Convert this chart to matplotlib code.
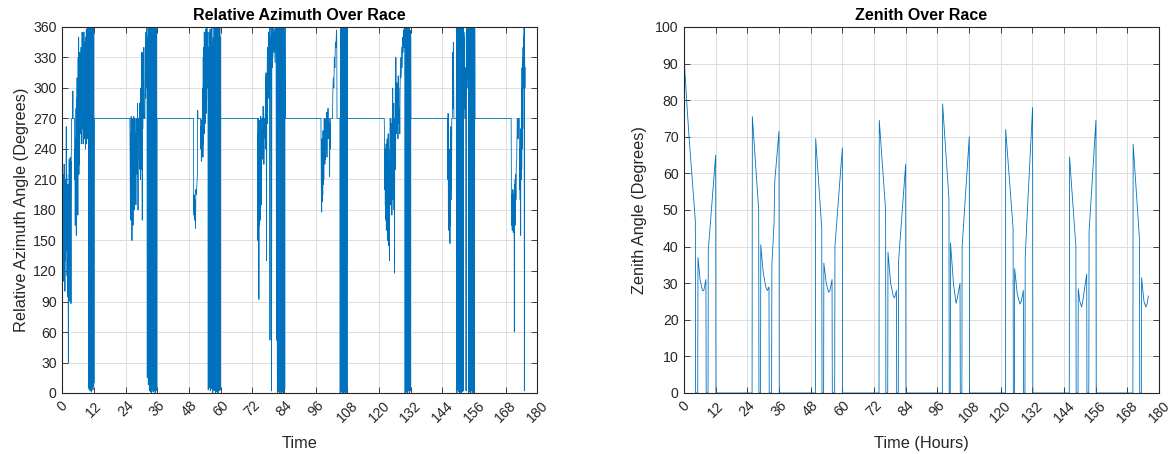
import matplotlib
matplotlib.use("Agg")
import matplotlib.pyplot as plt

plt.rcParams['font.family'] = ['Liberation Sans', 'DejaVu Sans']

# ---------------- Relative azimuth data (time in hours, angle in degrees) ----------------
az_day1 = [(0.0, 270), (0.0, 92), (0.1, 225), (0.2, 140), (0.3, 215), (0.4, 110), (0.5, 200), (0.6, 150),
           (0.7, 225), (0.8, 120), (0.9, 205), (1.0, 100), (1.1, 210), (1.2, 130), (1.3, 190), (1.4, 150),
           (1.5, 262), (1.6, 140), (1.7, 215), (1.8, 115), (1.9, 205), (2.0, 95), (2.1, 180), (2.2, 130),
           (2.3, 30), (2.4, 205), (2.5, 160), (2.6, 230), (2.7, 125), (2.8, 220), (2.9, 90), (3.0, 232),
           (3.1, 150), (3.2, 228), (3.3, 88), (3.4, 230), (3.5, 270), (3.9, 270), (4.0, 297), (4.1, 270),
           (4.6, 270), (4.7, 210), (4.8, 240), (4.9, 165), (5.0, 250), (5.1, 205), (5.2, 280), (5.3, 155),
           (5.4, 290), (5.5, 230), (5.6, 310), (5.7, 200), (5.8, 265), (5.9, 175), (6.0, 330), (6.1, 240),
           (6.2, 350), (6.3, 215), (6.4, 300), (6.5, 225), (6.6, 335), (6.7, 270), (6.9, 270), (7.0, 255),
           (7.1, 340), (7.2, 245), (7.3, 336), (7.4, 260), (7.5, 355), (7.6, 270), (7.8, 270), (7.9, 245),
           (8.0, 335), (8.1, 265), (8.2, 355), (8.3, 250), (8.4, 345), (8.5, 270), (8.7, 270), (8.8, 240),
           (8.9, 350), (9.0, 260), (9.1, 358), (9.2, 245), (9.3, 352), (9.4, 262), (9.5, 356), (9.6, 250),
           (9.7, 360), (9.8, 270), (9.9, 355),
           (10.0, 5), (10.1, 360), (10.2, 3), (10.3, 356), (10.4, 8), (10.5, 360), (10.6, 2), (10.7, 355),
           (10.8, 6), (10.9, 360), (11.0, 1), (11.1, 358), (11.2, 4), (11.3, 360), (11.4, 9), (11.5, 357),
           (11.6, 3), (11.7, 360), (11.8, 7), (11.9, 356), (12.0, 10), (12.1, 270)]

az_day2 = [(25.6, 270), (25.7, 235), (25.8, 180), (25.9, 255), (26.0, 170), (26.1, 272), (26.2, 175),
           (26.3, 265), (26.4, 150), (26.5, 240), (26.6, 185), (26.7, 270), (26.8, 165), (26.9, 250),
           (27.0, 190), (27.1, 272), (27.2, 180), (27.3, 270), (27.6, 270), (27.7, 200), (27.8, 255),
           (27.9, 185), (28.0, 270), (28.3, 270), (28.4, 215), (28.5, 285), (28.6, 230), (28.7, 180),
           (28.8, 270), (29.1, 270), (29.2, 230), (29.3, 285), (29.4, 220), (29.5, 265), (29.6, 210),
           (29.7, 300), (29.8, 225), (29.9, 270), (30.0, 220), (30.1, 335), (30.2, 240), (30.3, 170),
           (30.4, 295), (30.5, 260), (30.6, 335), (30.7, 270), (30.8, 300), (30.9, 340), (31.0, 270),
           (31.3, 270), (31.4, 310), (31.5, 345), (31.6, 290), (31.7, 355), (31.8, 300), (31.9, 360),
           (32.0, 310), (32.1, 320), (32.2, 15), (32.3, 350), (32.4, 300), (32.5, 360), (32.6, 8),
           (32.7, 340), (32.8, 310), (32.9, 360), (33.0, 2), (33.1, 360), (33.2, 4), (33.3, 358), (33.4, 1),
           (33.5, 360), (33.6, 6), (33.7, 357), (33.8, 0), (33.9, 360), (34.0, 3), (34.1, 359), (34.2, 5),
           (34.3, 360), (34.4, 1), (34.5, 356), (34.6, 4), (34.7, 360), (34.8, 2), (34.9, 358), (35.0, 7),
           (35.1, 360), (35.2, 0), (35.3, 355), (35.4, 3), (35.5, 360), (35.6, 5), (35.7, 357), (35.8, 2),
           (35.9, 270)]

az_day3 = [(49.7, 270), (49.8, 185), (49.9, 175), (50.0, 195), (50.1, 170), (50.3, 190), (50.5, 162),
           (50.6, 200), (50.8, 195), (51.0, 205), (51.2, 215), (51.3, 278), (51.4, 270), (52.4, 270),
           (52.5, 240), (52.6, 262), (52.7, 228), (52.8, 268), (52.9, 232), (53.0, 270), (53.1, 235),
           (53.2, 300), (53.3, 232), (53.4, 330), (53.5, 245), (53.6, 340), (53.7, 258), (53.8, 355),
           (53.9, 255), (54.0, 345), (54.1, 265), (54.2, 350), (54.3, 280), (54.4, 358), (54.5, 275),
           (54.6, 352), (54.7, 290), (54.8, 360), (54.9, 300), (55.0, 355), (55.2, 310), (55.3, 3),
           (55.4, 340), (55.5, 300), (55.6, 355), (55.8, 320), (55.9, 5), (56.0, 358), (56.1, 2),
           (56.2, 350), (56.3, 315), (56.4, 4), (56.5, 345), (56.7, 360), (56.9, 325),
           (57.0, 0), (57.2, 350), (57.3, 3), (57.5, 360), (57.6, 2), (57.8, 355), (57.9, 300), (58.0, 360),
           (58.1, 0), (58.3, 358), (58.4, 5), (58.5, 360), (58.6, 1), (58.7, 356), (58.8, 3), (58.9, 360),
           (59.0, 0), (59.1, 355), (59.2, 4), (59.3, 360), (59.4, 2), (59.5, 358), (59.6, 6), (59.7, 360),
           (59.8, 3), (59.9, 350), (60.0, 270)]

az_day4 = [(74.0, 270), (74.1, 150), (74.2, 255), (74.3, 160), (74.4, 270), (74.5, 92), (74.6, 240),
           (74.7, 165), (74.8, 268), (74.9, 180), (75.0, 260), (75.1, 170), (75.2, 272), (75.3, 200),
           (75.4, 250), (75.5, 185), (75.6, 270), (75.9, 270), (76.0, 230), (76.1, 282), (76.2, 235),
           (76.3, 275), (76.4, 225), (76.5, 270), (76.8, 270), (76.9, 250), (77.0, 310), (77.1, 240),
           (77.2, 315), (77.3, 255), (77.4, 130), (77.5, 300), (77.6, 270), (77.7, 330), (77.8, 265),
           (77.9, 340), (78.0, 290), (78.1, 355), (78.2, 300), (78.3, 345), (78.4, 290), (78.5, 360),
           (78.6, 305), (78.7, 52), (78.8, 330), (78.9, 350), (79.0, 300), (79.1, 360), (79.2, 310),
           (79.3, 2), (79.4, 355), (79.5, 320), (79.6, 360), (79.8, 330), (80.0, 360), (80.2, 335),
           (80.4, 358), (80.6, 325), (80.8, 360), (81.0, 340), (81.2, 52), (81.3, 360),
           (81.5, 0), (81.6, 360), (81.7, 3), (81.8, 358), (81.9, 1), (82.0, 360), (82.1, 5), (82.2, 356),
           (82.3, 0), (82.4, 360), (82.5, 4), (82.6, 357), (82.7, 2), (82.8, 360), (82.9, 0), (83.0, 358),
           (83.1, 6), (83.2, 360), (83.3, 1), (83.4, 355), (83.5, 3), (83.6, 360), (83.7, 0), (83.8, 357),
           (83.9, 5), (84.0, 360), (84.1, 2), (84.2, 358), (84.3, 4), (84.4, 360), (84.5, 270)]

az_day5 = [(98.0, 270), (98.1, 232), (98.2, 185), (98.3, 178), (98.4, 250), (98.5, 188), (98.6, 230),
           (98.7, 195), (98.8, 258), (98.9, 205), (99.0, 245), (99.1, 210), (99.2, 270), (99.4, 270),
           (99.5, 225), (99.6, 265), (99.7, 230), (99.8, 270), (100.0, 270), (100.1, 240), (100.2, 276),
           (100.3, 232), (100.4, 270), (100.6, 270), (100.7, 280), (100.8, 250), (100.9, 270),
           (101.2, 270), (101.3, 213), (101.4, 265), (101.5, 240), (101.6, 270), (102.4, 270),
           (102.5, 295), (102.7, 310), (102.9, 300), (103.1, 330), (103.3, 320), (103.5, 345),
           (103.7, 340), (103.9, 357), (104.0, 350), (104.1, 270), (105.2, 270),
           (105.3, 0), (105.4, 360), (105.5, 3), (105.6, 357), (105.7, 1), (105.8, 360), (105.9, 5),
           (106.0, 355), (106.1, 0), (106.2, 360), (106.3, 4), (106.4, 358), (106.5, 2), (106.6, 360),
           (106.7, 0), (106.8, 356), (106.9, 6), (107.0, 360), (107.1, 1), (107.2, 357), (107.3, 3),
           (107.4, 360), (107.5, 0), (107.6, 355), (107.7, 5), (107.8, 360), (107.9, 2), (108.0, 358),
           (108.1, 270)]

az_day6 = [(122.0, 270), (122.1, 255), (122.2, 200), (122.3, 240), (122.4, 185), (122.5, 220),
           (122.6, 170), (122.7, 245), (122.8, 160), (122.9, 230), (123.0, 175), (123.1, 250),
           (123.2, 150), (123.3, 225), (123.4, 165), (123.5, 255), (123.6, 145), (123.7, 240),
           (123.8, 160), (123.9, 210), (124.0, 130), (124.1, 240), (124.2, 270), (124.4, 270),
           (124.5, 185), (124.6, 265), (124.7, 200), (124.8, 250), (124.9, 175), (125.0, 270),
           (125.1, 215), (125.2, 300), (125.3, 190), (125.4, 260), (125.5, 230), (125.6, 285),
           (125.7, 180), (125.8, 250), (125.9, 118), (126.0, 270), (126.1, 240), (126.2, 300),
           (126.3, 220), (126.4, 330), (126.5, 255), (126.6, 270), (126.8, 270), (126.9, 305),
           (127.0, 260), (127.1, 290), (127.2, 250), (127.3, 312), (127.4, 265), (127.5, 300),
           (127.6, 270), (127.8, 280), (127.9, 255), (128.0, 300), (128.2, 330), (128.4, 310),
           (128.6, 340), (128.8, 320), (129.0, 350), (129.2, 335), (129.4, 357), (129.5, 340),
           (129.6, 360), (129.8, 350),
           (129.9, 0), (130.0, 360), (130.1, 4), (130.2, 357), (130.3, 1), (130.4, 360), (130.5, 6),
           (130.6, 355), (130.7, 0), (130.8, 360), (130.9, 3), (131.0, 358), (131.1, 2), (131.2, 360),
           (131.3, 5), (131.4, 356), (131.5, 0), (131.6, 360), (131.7, 4), (131.8, 357), (131.9, 2),
           (132.0, 350), (132.1, 270)]

az_day7 = [(146.0, 270), (146.1, 210), (146.2, 275), (146.3, 180), (146.4, 255), (146.5, 160),
           (146.6, 240), (146.7, 150), (146.8, 230), (146.9, 147), (147.0, 220), (147.1, 165),
           (147.2, 262), (147.3, 190), (147.4, 250), (147.5, 200), (147.6, 270), (147.8, 270),
           (147.9, 300), (148.0, 335), (148.1, 280), (148.2, 345), (148.3, 310), (148.4, 270),
           (149.3, 270), (149.4, 360),
           (149.5, 0), (149.6, 360), (149.7, 3), (149.8, 356), (149.9, 220), (150.0, 360), (150.1, 1),
           (150.2, 358), (150.3, 5), (150.4, 360), (150.5, 0), (150.6, 355), (150.7, 4), (150.8, 360),
           (150.9, 2), (151.0, 357), (151.1, 0), (151.2, 360), (151.3, 6), (151.4, 358), (151.5, 1),
           (151.6, 360), (151.7, 3), (151.8, 356), (151.9, 2), (152.0, 360),
           (152.1, 300), (152.2, 355), (152.3, 280), (152.4, 350), (152.5, 270), (152.8, 270),
           (152.9, 320), (153.0, 2), (153.1, 355), (153.2, 290), (153.3, 360), (153.5, 300),
           (153.7, 358), (153.9, 310),
           (154.0, 0), (154.1, 360), (154.2, 4), (154.3, 357), (154.4, 1), (154.5, 360), (154.6, 5),
           (154.7, 355), (154.8, 0), (154.9, 360), (155.0, 3), (155.1, 358), (155.2, 2), (155.3, 360),
           (155.4, 6), (155.5, 356), (155.6, 0), (155.7, 360), (155.8, 4), (155.9, 357), (156.0, 1),
           (156.1, 360), (156.2, 3), (156.3, 358), (156.4, 270)]

az_day8 = [(170.1, 270), (170.2, 185), (170.3, 165), (170.4, 195), (170.5, 160), (170.6, 200),
           (170.7, 170), (170.8, 190), (170.9, 158), (171.0, 195), (171.1, 175), (171.2, 200),
           (171.3, 60), (171.4, 205), (171.5, 180), (171.6, 210), (171.7, 165), (171.8, 215),
           (171.9, 190), (172.0, 220), (172.2, 230), (172.4, 270), (172.6, 270), (172.7, 250),
           (172.8, 270), (173.2, 270), (173.3, 200), (173.4, 240), (173.5, 190), (173.6, 230),
           (173.7, 155), (173.8, 260), (173.9, 210), (174.0, 300), (174.1, 220), (174.2, 320),
           (174.3, 240), (174.4, 330), (174.5, 260), (174.6, 340), (174.7, 300), (174.8, 350),
           (174.9, 330), (175.0, 360), (175.1, 2), (175.2, 330), (175.3, 300), (175.4, 320)]

# ---------------- Zenith data (time in hours, angle in degrees) ----------------
zen_day1 = [(0.0, 92), (1.0, 80), (1.9, 70), (4.3, 47), (4.4, 0), (5.2, 0), (5.3, 37), (6.1, 31),
            (7.0, 28), (7.5, 28), (8.3, 31), (8.4, 0), (9.1, 0), (9.2, 39), (12.0, 65), (12.1, 0)]
zen_day2 = [(25.8, 0), (25.9, 75.5), (28.3, 50), (28.4, 0), (29.0, 0), (29.1, 40.5), (30.0, 33),
            (31.0, 29), (31.6, 28), (32.2, 29), (32.3, 0), (33.2, 0), (33.3, 35), (34.1, 46),
            (34.4, 58), (36.0, 71.5), (36.1, 0)]
zen_day3 = [(49.8, 0), (49.9, 69.5), (52.2, 45), (52.3, 0), (52.9, 0), (53.0, 35.5), (53.9, 30),
            (54.8, 27.5), (55.3, 28), (56.1, 31), (56.2, 0), (57.1, 0), (57.2, 40), (60.0, 67),
            (60.1, 0)]
zen_day4 = [(73.9, 0), (74.0, 74.5), (76.4, 50), (76.5, 0), (77.2, 0), (77.3, 38.5), (78.3, 30),
            (79.3, 26.5), (79.8, 26), (80.5, 28), (80.6, 0), (81.2, 0), (81.3, 36), (84.0, 62.5),
            (84.1, 0)]
zen_day5 = [(97.9, 0), (98.0, 79), (100.4, 53), (100.5, 0), (100.9, 0), (101.0, 41), (102.1, 30),
            (103.1, 24.5), (103.6, 26), (104.6, 30), (104.7, 0), (105.3, 0), (105.4, 40),
            (108.1, 70), (108.2, 0)]
zen_day6 = [(121.8, 0), (121.9, 72), (124.7, 45), (124.8, 0), (125.2, 0), (125.3, 34), (126.3, 27),
            (127.3, 24.3), (127.8, 25), (128.6, 28), (128.7, 0), (129.2, 0), (129.3, 37),
            (130.0, 48), (132.1, 78), (132.2, 0)]
zen_day7 = [(146.0, 0), (146.1, 64.5), (148.5, 40), (148.6, 0), (149.3, 0), (149.4, 28.5),
            (150.0, 25), (150.7, 23.5), (151.3, 26), (152.6, 32.5), (152.7, 0), (153.4, 0),
            (153.5, 44), (156.1, 74.5), (156.2, 0)]
zen_day8 = [(170.1, 0), (170.2, 68), (172.6, 42), (172.7, 0), (173.3, 0), (173.4, 31.5),
            (174.3, 25), (175.0, 23.5), (175.5, 24.5), (176.0, 26.5)]

x_ticks = list(range(0, 181, 12))
az_ticks = list(range(0, 361, 30))
zen_ticks = list(range(0, 101, 10))

# ---------------- assemble ----------------
az_pts = az_day1 + az_day2 + az_day3 + az_day4 + az_day5 + az_day6 + az_day7 + az_day8
zen_pts = zen_day1 + zen_day2 + zen_day3 + zen_day4 + zen_day5 + zen_day6 + zen_day7 + zen_day8
az_t = [p[0] for p in az_pts]
az_v = [p[1] for p in az_pts]
zen_t = [p[0] for p in zen_pts]
zen_v = [p[1] for p in zen_pts]

LINE = '#0072BD'
DARK = '#262626'
GRID = '#dedede'

fig = plt.figure(figsize=(11.71, 4.54), dpi=100)
ax1 = fig.add_axes([62.3 / 1171, 61 / 454, 475 / 1171, 366 / 454])
ax2 = fig.add_axes([684 / 1171, 61 / 454, 475 / 1171, 366 / 454])


def style(ax, yticks, ylim):
    ax.set_xlim(0, 180)
    ax.set_ylim(*ylim)
    ax.set_xticks(x_ticks)
    ax.set_yticks(yticks)
    ax.grid(True, color=GRID, linewidth=0.7)
    ax.set_axisbelow(True)
    for s in ax.spines.values():
        s.set_color(DARK)
        s.set_linewidth(0.8)
    ax.tick_params(axis='both', direction='in', length=4, width=0.6, color=DARK,
                   labelcolor=DARK, labelsize=10.2, top=True, right=True)
    ax.tick_params(axis='x', pad=4)
    ax.tick_params(axis='y', pad=4)
    for lbl in ax.get_xticklabels():
        lbl.set_rotation(45)
        lbl.set_ha('center')
        lbl.set_va('top')


ax1.plot(az_t, az_v, color=LINE, linewidth=0.6)
style(ax1, az_ticks, (0, 360))
ax1.set_title('Relative Azimuth Over Race', fontsize=11.5, fontweight='bold', color='black', pad=5)
ax1.set_xlabel('Time', fontsize=11.7, color=DARK, labelpad=8)
ax1.set_ylabel('Relative Azimuth Angle (Degrees)', fontsize=11.7, color=DARK, labelpad=3)

ax2.plot(zen_t, zen_v, color=LINE, linewidth=0.6)
style(ax2, zen_ticks, (0, 100))
ax2.set_title('Zenith Over Race', fontsize=11.5, fontweight='bold', color='black', pad=5)
ax2.set_xlabel('Time (Hours)', fontsize=11.7, color=DARK, labelpad=8)
ax2.set_ylabel('Zenith Angle (Degrees)', fontsize=11.7, color=DARK, labelpad=6)

fig.savefig('out.png', dpi=100)
